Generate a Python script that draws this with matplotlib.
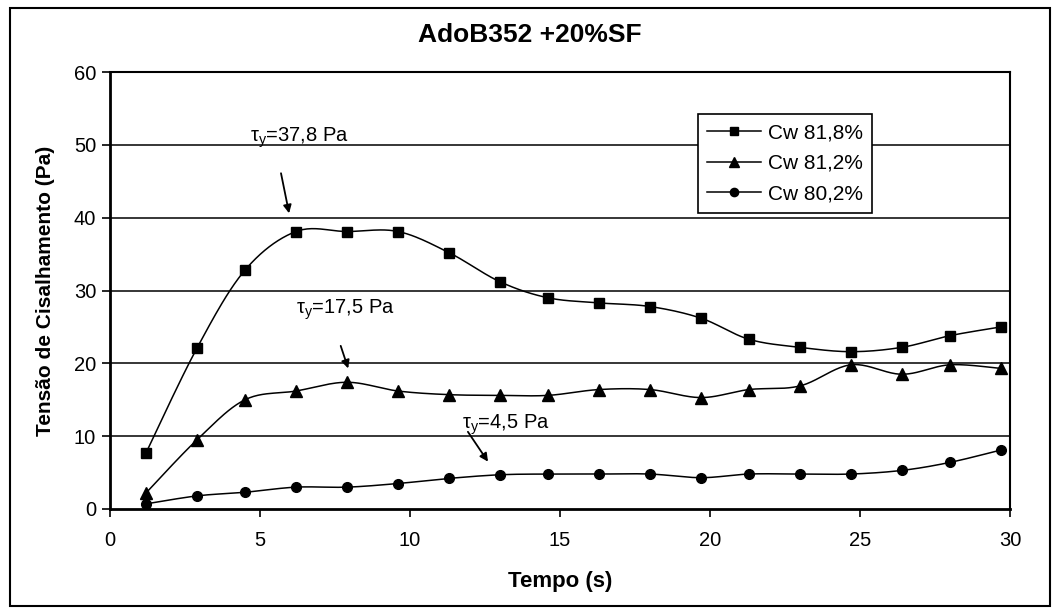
import numpy as np
import matplotlib
matplotlib.use("Agg")
import matplotlib.pyplot as plt
from matplotlib.patches import Rectangle

plt.rcParams['font.family'] = ['Liberation Sans', 'DejaVu Sans']
plt.rcParams['mathtext.fontset'] = 'custom'
plt.rcParams['mathtext.rm'] = 'Liberation Sans'
plt.rcParams['mathtext.it'] = 'Liberation Sans:italic'

# ---- data ----
tempo = [1.2, 2.9, 4.5, 6.2, 7.9, 9.6, 11.3, 13.0, 14.6, 16.3, 18.0, 19.7,
         21.3, 23.0, 24.7, 26.4, 28.0, 29.7]
cw818 = [7.7, 22.1, 32.8, 38.1, 38.1, 38.1, 35.2, 31.2, 29.0, 28.3, 27.8, 26.2,
         23.3, 22.2, 21.6, 22.2, 23.8, 25.0]
cw812 = [2.2, 9.5, 15.0, 16.2, 17.4, 16.2, 15.7, 15.6, 15.6, 16.4, 16.4, 15.3,
         16.4, 16.9, 19.8, 18.5, 19.8, 19.3]
cw802 = [0.7, 1.8, 2.3, 3.0, 3.0, 3.5, 4.2, 4.7, 4.8, 4.8, 4.8, 4.3,
         4.8, 4.8, 4.8, 5.3, 6.4, 8.1]
series_labels = ['Cw 81,8%', 'Cw 81,2%', 'Cw 80,2%']
xticks = [0, 5, 10, 15, 20, 25, 30]
yticks = [0, 10, 20, 30, 40, 50, 60]
annot_texts = ['37,8 Pa', '17,5 Pa', '4,5 Pa']


def smooth(x, y, n=24):
    P = np.column_stack([x, y]).astype(float)
    P = np.vstack([P[0], P, P[-1]])
    out = []
    t = np.linspace(0, 1, n)[:, None]
    for i in range(1, len(P) - 2):
        p0, p1, p2, p3 = P[i - 1], P[i], P[i + 1], P[i + 2]
        b1 = p1 + (p2 - p0) / 6.0
        b2 = p2 - (p3 - p1) / 6.0
        seg = ((1 - t) ** 3) * p1 + 3 * ((1 - t) ** 2) * t * b1 + 3 * (1 - t) * t ** 2 * b2 + t ** 3 * p2
        out.append(seg if i == 1 else seg[1:])
    c = np.vstack(out)
    return c[:, 0], c[:, 1]


fig = plt.figure(figsize=(10.59, 6.15), dpi=100)
ax = fig.add_axes([110 / 1059, 1 - 509 / 615, 900 / 1059, 437 / 615])

# outer frame
fig.patches.append(Rectangle((10 / 1059, 1 - 606 / 615), 1040 / 1059, 598 / 615,
                             transform=fig.transFigure, fill=False, ec='black', lw=1.5))

for yv in yticks[1:]:
    ax.axhline(yv, color='black', lw=1.1, zorder=1)

markers = ['s', '^', 'o']
msizes = [7.5, 8, 7]
for ys, m, ms, lab in zip([cw818, cw812, cw802], markers, msizes, series_labels):
    sx, sy = smooth(tempo, ys)
    ax.plot(sx, sy, color='black', lw=1.1, zorder=3)
    ax.plot(tempo, ys, ls='none', marker=m, ms=ms, color='black', zorder=4)
    ax.plot([], [], color='black', lw=1.1, marker=m, ms=ms * 0.85, label=lab)

ax.set_xlim(0, 30)
ax.set_ylim(0, 60)
ax.set_xticks(xticks)
ax.set_yticks(yticks)
ax.tick_params(direction='out', length=6, width=1.2, labelsize=14.5, colors='black', pad=10)
ax.tick_params(axis='y', pad=4)
for s in ax.spines.values():
    s.set_linewidth(1.5)
    s.set_color('black')
ax.spines['left'].set_linewidth(2)
ax.spines['bottom'].set_linewidth(2)

ax.set_xlabel('Tempo (s)', fontsize=16, fontweight='bold')
ax.xaxis.set_label_coords(0.5, -(571 - 509) / 437)
ax.set_ylabel('Tensão de Cisalhamento (Pa)', fontsize=15, fontweight='bold')
ax.yaxis.set_label_coords(-(110 - 55) / 900, 0.5)
fig.text(0.5, 1 - 35 / 615, 'AdoB352 +20%SF', ha='center', va='center',
         fontsize=19, fontweight='bold')

leg = ax.legend(loc='upper right', bbox_to_anchor=((872 - 110) / 900, (509 - 114) / 437), fontsize=15,
                frameon=True, fancybox=False, edgecolor='black', framealpha=1,
                handlelength=2.6, borderpad=0.45, labelspacing=0.55, handletextpad=0.3,
                borderaxespad=0)
leg.get_frame().set_linewidth(1.2)

tau = r'$\mathrm{\tau_y}$='
arrowp = dict(arrowstyle='-|>', color='black', lw=1.3, mutation_scale=12, shrinkA=0, shrinkB=0)
ax.annotate('', xy=(5.97, 40.6), xytext=(5.7, 46.1), arrowprops=arrowp)
ax.text(4.65, 51.0, tau + annot_texts[0], fontsize=14.5, va='center', ha='left')
ax.annotate('', xy=(7.94, 19.3), xytext=(7.69, 22.4), arrowprops=arrowp)
ax.text(6.2, 27.3, tau + annot_texts[1], fontsize=14.5, va='center', ha='left')
ax.annotate('', xy=(12.6, 6.5), xytext=(11.93, 10.6), arrowprops=arrowp)
ax.text(11.75, 11.5, tau + annot_texts[2], fontsize=14.5, va='center', ha='left')

fig.savefig('out.png', dpi=100)
